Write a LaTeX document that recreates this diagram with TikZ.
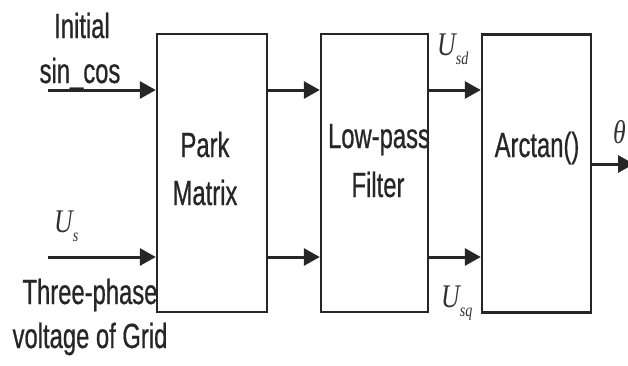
\documentclass[tikz,border=0pt]{standalone}
\usepackage{fontspec}
\setmainfont[FakeStretch=0.68,FakeBold=0.6]{Liberation Sans}
\newfontfamily\mathserif[FakeStretch=0.78]{Liberation Serif}
\usetikzlibrary{arrows.meta}
\begin{document}
\begin{tikzpicture}[x=1pt,y=-1pt,
  blk/.style={draw=black!85,line width=2.4pt,minimum width=#1,minimum height=278pt,inner sep=0pt},
  arr/.style={draw=black!85,line width=3pt,-{Triangle[length=16pt,width=17pt]}},
  lbl/.style={inner sep=0pt,anchor=base,font=\fontsize{35}{40}\selectfont,text=black!85},
  mlbl/.style={inner sep=0pt,anchor=base west,text=black!80}]
\useasboundingbox (0,0) rectangle (628,365);
\node[blk=110pt] (park) at (212,173) {};
\node[blk=107pt] (lp) at (374.5,173) {};
\node[blk=109pt] (atan) at (536.5,173.5) {};
\coordinate (in1) at (48,90);
\coordinate (in2) at (48,257);
\coordinate (out) at (634,164);
\draw[arr] (in1) -- (in1 -| park.west);
\draw[arr] (in2) -- (in2 -| park.west);
\draw[arr] (park.east |- in1) -- (lp.west |- in1);
\draw[arr] (park.east |- in2) -- (lp.west |- in2);
\draw[arr] (lp.east |- in1) -- (atan.west |- in1);
\draw[arr] (lp.east |- in2) -- (atan.west |- in2);
\draw[arr] (atan.east |- out) -- (out);
\node[lbl] (t1) at (82,38) {Initial};
\node[lbl] (t2) at (80,83) {sin\_cos};
\node[lbl] (t3) at (205,157) {Park};
\node[lbl] (t4) at (205,205) {Matrix};
\node[lbl] (t5) at (379,148) {Low-pass};
\node[lbl] (t6) at (378,197) {Filter};
\node[lbl] (t7) at (537,157) {Arctan()};
\node[lbl] (t8) at (90,304) {Three-phase};
\node[lbl] (t9) at (90,348) {voltage of Grid};
\node[mlbl] (us) at (54,232) {\mathserif\itshape\fontsize{33}{36}\selectfont U\raisebox{-9pt}{\fontsize{18}{20}\selectfont s}};
\node[mlbl] (usd) at (437,55) {\mathserif\itshape\fontsize{33}{36}\selectfont U\raisebox{-9pt}{\fontsize{18}{20}\selectfont sd}};
\node[mlbl] (usq) at (441,307) {\mathserif\itshape\fontsize{33}{36}\selectfont U\raisebox{-9pt}{\fontsize{18}{20}\selectfont sq}};
\node[mlbl] (th) at (613,143) {\mathserif\itshape\fontsize{33}{36}\selectfont θ};
\end{tikzpicture}
\end{document}
